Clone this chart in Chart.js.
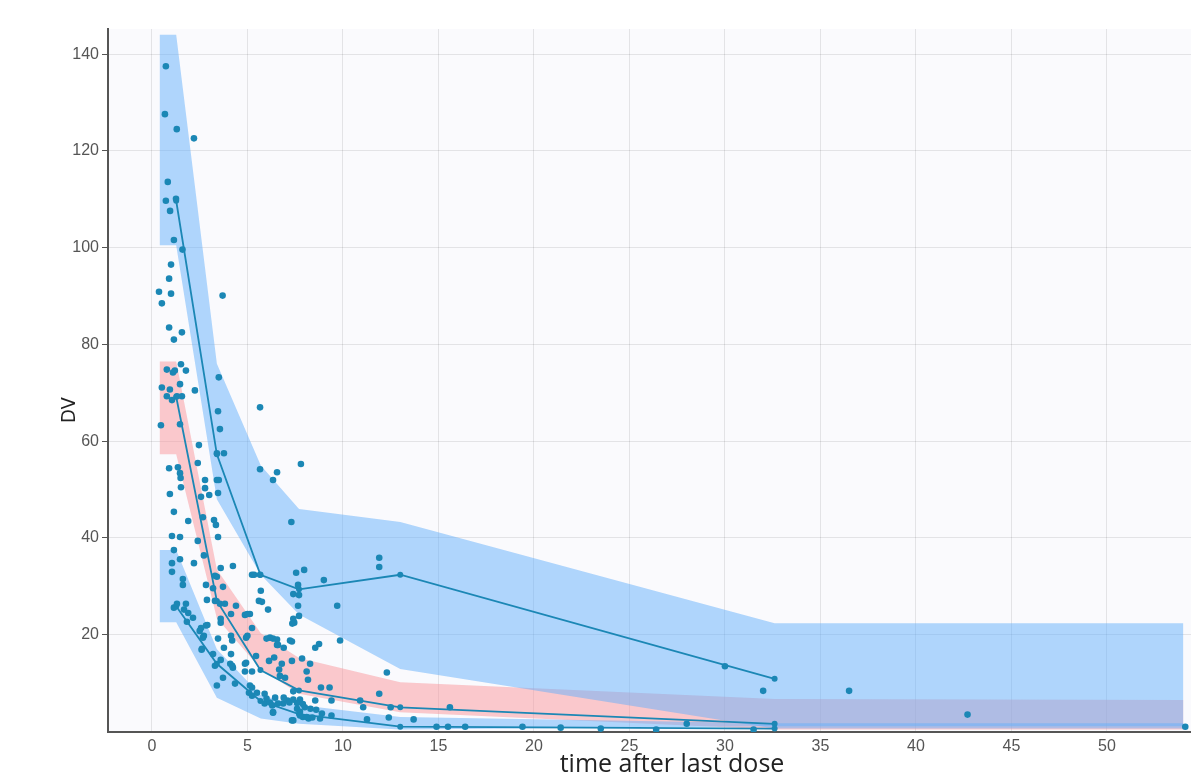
<!DOCTYPE html>
<html>
<head>
<meta charset="utf-8">
<script src="https://cdn.jsdelivr.net/npm/chart.js@4.4.1/dist/chart.umd.min.js"></script>
<style>
  html, body { margin: 0; padding: 0; background: #fff; }
</style>
</head>
<body>
<canvas id="vpcChart" width="1191" height="776"></canvas>
<script>
// bin edges / medians used for the prediction-interval bands
const bandTime = [0.4, 1.27, 3.4, 5.7, 7.7, 13, 32.6, 54.0];
const p95Hi = [144, 144, 76, 55, 46, 43.3, 22.4, 22.4];
const p95Lo = [100.5, 100.5, 48, 32.4, 24.2, 12.9, 0.6, 0.6];
const p50Hi = [76.5, 76.5, 33.5, 20.3, 15.2, 10.2, 6.7, 6.5];
const p50Lo = [57.3, 57.3, 23.4, 12.9, 7.8, 4.0, 0.4, 0.4];
const p05Hi = [37.5, 37.5, 17, 7.5, 5.5, 3.0, 1.7, 1.7];
const p05Lo = [22.6, 22.6, 7.0, 2.7, 1.6, 0.4, 1.1, 1.1];

// observed percentiles per bin
const binTime = [1.27, 3.4, 5.68, 7.7, 13, 32.6];
const obsP95 = [109.7, 57.3, 32.4, 29.4, 32.4, 10.9];
const obsP50 = [69.2, 27.0, 12.7, 8.5, 5.0, 1.6];
const obsP05 = [25.9, 14.0, 6.3, 3.6, 1.0, 0.6];

// observations
const obsTime = [
  0.73, 0.68, 1.3, 2.2, 0.83, 0.73, 1.26, 0.95, 1.15, 1.6, 1.0, 0.9, 0.37, 1.0, 3.7, 0.52,
  0.9, 1.57, 1.15, 0.78, 1.2, 1.1, 1.52, 1.78, 0.52, 0.94, 1.47, 0.78, 1.05, 1.31, 1.57, 2.25,
  0.47, 1.47, 3.5, 3.46, 3.56, 3.4, 3.77, 2.46, 2.4, 1.36, 0.9, 1.47, 1.5, 1.52, 0.94, 2.78,
  2.78, 2.57, 3.0, 3.4, 3.5, 3.46, 5.66, 5.66, 6.34, 6.55, 7.8, 7.3, 1.15, 1.9, 2.67, 3.25,
  3.35, 1.05, 1.47, 2.4, 3.46, 1.15, 1.05, 1.47, 1.05, 2.2, 2.72, 3.6, 4.24, 3.4, 1.62, 11.9,
  11.9, 5.24, 5.35, 5.66, 7.55, 7.97, 9.0, 1.62, 1.15, 1.31, 1.78, 1.68, 1.9, 2.15, 1.83, 2.83,
  2.88, 3.2, 3.3, 3.72, 3.3, 3.56, 3.82, 3.6, 3.6, 4.14, 4.4, 4.87, 5.13, 5.24, 4.93, 5.7,
  5.6, 5.76, 6.08, 7.4, 7.65, 7.7, 7.65, 7.4, 7.45, 7.7, 7.35, 9.7, 9.85, 8.55, 8.75, 7.86,
  8.28, 8.1, 8.17, 7.33, 6.9, 6.55, 6.18, 6.34, 6.4, 6.8, 6.13, 6.97, 6.7, 7.33, 5.24, 4.87,
  4.87, 5.24, 5.08, 5.5, 5.24, 5.9, 5.9, 6.18, 6.34, 6.45, 6.87, 7.1, 7.75, 7.4, 7.75, 8.2,
  8.0, 8.55, 8.8, 8.9, 8.85, 9.3, 9.4, 10.9, 11.06, 11.26, 11.9, 12.3, 12.4, 12.5, 13.7, 14.9,
  15.5, 3.3, 3.2, 2.83, 2.57, 2.5, 2.72, 2.62, 3.46, 3.77, 4.14, 4.2, 4.14, 4.1, 4.24, 3.4,
  3.72, 4.35, 2.9, 2.67, 2.6, 5.0, 5.0, 3.6, 4.2, 4.93, 6.0, 6.55, 6.6, 7.23, 5.45, 6.66,
  7.4, 5.13, 6.0, 6.3, 6.6, 6.9, 7.2, 7.4, 7.6, 7.9, 7.6, 7.75, 7.9, 8.1, 8.3, 8.6,
  8.4, 9.4, 6.34, 7.33, 15.6, 16.4, 19.4, 21.4, 23.5, 26.4, 28.0, 30.0, 32.0, 31.5, 36.5, 42.7,
  54.1
];
const obsDV = [
  137.5, 127.6, 124.5, 122.6, 113.6, 109.7, 110.1, 107.6, 101.6, 99.6, 96.5, 93.6, 90.9, 90.5, 90.1, 88.5,
  83.5, 82.5, 81.0, 74.8, 74.6, 74.2, 75.9, 74.6, 71.1, 70.7, 71.8, 69.3, 68.5, 69.3, 69.3, 70.5,
  63.3, 63.5, 73.2, 66.2, 62.5, 57.5, 57.5, 59.2, 55.5, 54.6, 54.4, 53.4, 52.4, 50.5, 49.1, 52.0,
  50.3, 48.5, 48.9, 52.0, 52.0, 49.3, 67.0, 54.2, 52.0, 53.6, 55.3, 43.3, 45.4, 43.5, 44.3, 43.7,
  42.7, 40.4, 40.2, 39.4, 40.2, 37.5, 34.8, 35.6, 33.0, 34.8, 36.4, 33.8, 34.2, 32.0, 31.5, 35.9,
  34.0, 32.4, 32.4, 32.4, 32.8, 33.4, 31.3, 30.3, 25.6, 26.4, 26.4, 25.2, 24.5, 23.5, 22.7, 30.3,
  27.2, 29.6, 32.2, 29.9, 27.0, 26.4, 26.4, 23.3, 22.5, 24.3, 26.0, 24.1, 24.3, 21.4, 19.4, 29.1,
  27.0, 26.8, 25.2, 28.4, 30.3, 28.2, 26.0, 23.3, 22.5, 23.9, 22.3, 26.0, 18.8, 17.3, 18.1, 15.1,
  14.0, 12.4, 10.7, 18.6, 17.3, 17.9, 19.4, 19.2, 15.3, 14.0, 14.6, 11.1, 11.5, 14.6, 12.4, 12.4,
  14.0, 9.1, 8.0, 8.0, 7.4, 7.8, 5.8, 6.0, 4.0, 7.0, 5.8, 6.4, 6.6, 2.3, 3.3, 2.7,
  5.0, 6.4, 2.7, 3.7, 9.1, 9.1, 6.4, 6.4, 5.0, 2.5, 7.8, 12.2, 2.9, 5.0, 2.5, 1.0,
  1.0, 13.6, 16.0, 21.9, 21.4, 20.8, 19.8, 17.1, 19.2, 17.3, 19.8, 18.8, 16.0, 14.0, 13.2, 9.5,
  11.1, 9.9, 22.0, 19.4, 16.9, 24.3, 19.8, 14.8, 13.6, 14.2, 19.2, 19.0, 17.9, 18.8, 15.6, 12.8,
  8.3, 9.5, 6.8, 5.4, 5.8, 7.0, 6.0, 6.6, 5.9, 5.7, 4.7, 4.1, 3.0, 3.0, 4.7, 4.5,
  2.9, 3.3, 3.9, 2.3, 5.0, 1.0, 1.0, 0.8, 0.6, 0.4, 1.6, 13.5, 8.4, 0.4, 8.4, 3.5,
  1.0
];

const xTicks = [0, 5, 10, 15, 20, 25, 30, 35, 40, 45, 50];
const yTicks = [20, 40, 60, 80, 100, 120, 140];

const pts = (xs, ys) => xs.map((x, i) => ({ x: x, y: ys[i] }));

const markColor = '#1b87b5';
const blueBand = 'rgba(100, 175, 252, 0.5)';
const redBand = 'rgba(250, 150, 155, 0.5)';

function edge(data, order) {
  return { type: 'line', data: data, order: order, borderWidth: 0, pointRadius: 0, fill: false };
}
function obsLine(data) {
  return {
    type: 'line', data: data, order: 1, borderColor: markColor, borderWidth: 1.8,
    pointRadius: 3, pointBackgroundColor: markColor, pointBorderWidth: 0, fill: false, tension: 0
  };
}

// plot panel background + axis titles (placed like the original panel, not the visible crop)
const plotBg = {
  id: 'plotBg',
  beforeDraw(chart) {
    const { ctx, chartArea: a } = chart;
    ctx.save();
    ctx.fillStyle = '#FAFAFD';
    ctx.fillRect(a.left, a.top, a.right - a.left, a.bottom - a.top);
    ctx.restore();
  },
  afterDraw(chart) {
    const ctx = chart.ctx;
    ctx.save();
    ctx.fillStyle = '#222';
    ctx.textAlign = 'center';
    ctx.textBaseline = 'middle';
    ctx.font = '25px "Open Sans", sans-serif';
    ctx.fillText('time after last dose', 672, 765);
    ctx.translate(70, 410);
    ctx.rotate(-Math.PI / 2);
    ctx.font = '20px "DejaVu Sans Condensed", "DejaVu Sans", sans-serif';
    ctx.fillText('DV', 0, 0);
    ctx.restore();
  }
};

const ctx = document.getElementById('vpcChart').getContext('2d');
const vpcChart = new Chart(ctx, {
  type: 'scatter',
  data: {
    datasets: [
      { type: 'scatter', data: pts(obsTime, obsDV), order: 0, pointRadius: 3.3,
        pointBackgroundColor: markColor, pointBorderWidth: 0 },
      obsLine(pts(binTime, obsP95)),
      obsLine(pts(binTime, obsP50)),
      obsLine(pts(binTime, obsP05)),
      edge(pts(bandTime, p50Lo), 5),
      Object.assign(edge(pts(bandTime, p50Hi), 5), { fill: { target: 4 }, backgroundColor: redBand }),
      edge(pts(bandTime, p95Lo), 4),
      Object.assign(edge(pts(bandTime, p95Hi), 4), { fill: { target: 6 }, backgroundColor: blueBand }),
      edge(pts(bandTime, p05Lo), 3),
      Object.assign(edge(pts(bandTime, p05Hi), 3), { fill: { target: 8 }, backgroundColor: blueBand })
    ]
  },
  options: {
    responsive: false,
    animation: false,
    devicePixelRatio: 1,
    layout: { autoPadding: false, padding: { left: 54, top: 29, right: 0, bottom: 0 } },
    plugins: { legend: { display: false }, tooltip: { enabled: false } },
    scales: {
      x: {
        type: 'linear', min: -2.3, max: 54.4,
        afterBuildTicks: s => { s.ticks = xTicks.map(v => ({ value: v })); },
        afterFit: s => { s.height = 44; s.paddingLeft = 0; s.paddingRight = 0; },
        ticks: { color: '#555', padding: 5, font: { family: 'Liberation Sans', size: 16 } },
        grid: { color: 'rgba(0,0,0,0.09)', drawTicks: false },
        border: { color: '#555', width: 2 }
      },
      y: {
        type: 'linear', min: -0.1, max: 145.2,
        afterBuildTicks: s => { s.ticks = yTicks.map(v => ({ value: v })); },
        afterFit: s => { s.width = 54; },
        ticks: { color: '#555', padding: 3, font: { family: 'Liberation Sans', size: 16 } },
        grid: { color: 'rgba(0,0,0,0.09)', tickLength: 6, tickColor: '#555' },
        border: { color: '#555', width: 2 }
      }
    }
  },
  plugins: [plotBg]
});
</script>
</body>
</html>
